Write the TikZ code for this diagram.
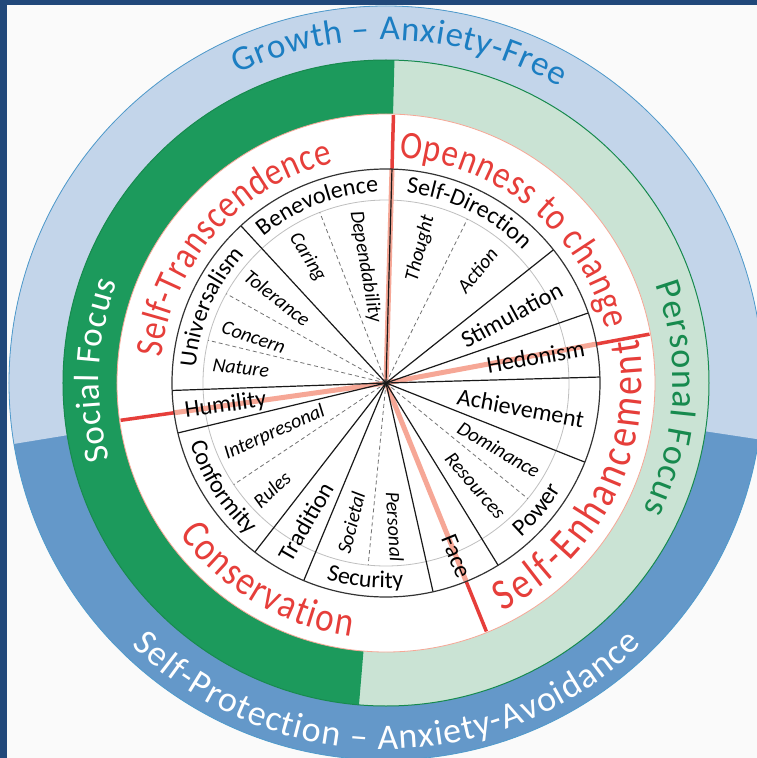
\documentclass[tikz,border=0pt]{standalone}
\usepackage{fontspec}
\setmainfont{Carlito}
\newfontfamily\archfont[FakeStretch=0.85]{Carlito}
\usepackage{xcolor}
\usepackage{tikz}
\usetikzlibrary{decorations.text}

\definecolor{navy}{HTML}{21487A}
\definecolor{skylight}{HTML}{C3D5EA}
\definecolor{skymid}{HTML}{6498C9}
\definecolor{skyline}{HTML}{4F9ACB}
\definecolor{skytext}{HTML}{1C7EC2}
\definecolor{leaf}{HTML}{1C9A5C}
\definecolor{leaflight}{HTML}{CAE3D4}
\definecolor{leafline}{HTML}{178A4E}
\definecolor{redlab}{HTML}{E63E3A}
\definecolor{salmon}{HTML}{F6A796}

\begin{document}
\begin{tikzpicture}[x=1pt, y=1pt,
        spoke/.style={black!90, line width=1.2pt},
        subline/.style={black!55, dash pattern=on 4pt off 3pt, line width=0.8pt},
        divider/.style={redlab, line width=3.5pt},
        glow/.style={salmon, line width=5pt},
        val/.style={inner sep=0pt, font=\fontsize{24}{24}\selectfont},
        sub/.style={inner sep=0pt, font=\fontsize{20}{20}\selectfont\itshape},
        ringtext/.style={decorate, decoration={text along path, text align=fit to path}},
        arcval/.style={decorate, decoration={text along path, text align=center}}]
      \useasboundingbox (-386,-375) rectangle (371,383);
      \fill[white!98!black] (-386,-375) rectangle (371,383);
      \fill[navy] (-386,-375) rectangle (-379,383);
      \fill[navy] (-386,378) rectangle (371,383);
      % outer ring: growth / self-protection
      \fill[skymid] (0,0) circle[radius=377];
      \fill[skylight] (0,0) -- (-8.6:377) arc[start angle=-8.6, end angle=189.3, radius=377] -- cycle;
      \draw[skyline, line width=0.8pt] (0,0) circle[radius=377];
      % focus ring
      \fill[leaflight] (0,0) circle[radius=323];
      \fill[leaf] (0,0) -- (88.5:323) arc[start angle=88.5, end angle=265.2, radius=323] -- cycle;
      \draw[leafline, line width=1pt] (0,0) circle[radius=323];
      \fill[white] (0,0) circle[radius=269];
      \draw[salmon, line width=0.8pt] (0,0) circle[radius=269];
      % wheel
      \draw[black!25, line width=0.8pt] (0,0) circle[radius=183];
      \draw[divider] (88.4:214) -- (88.4:268);
      \draw[divider] (10.5:214) -- (10.5:268);
      \draw[divider] (-68:214) -- (-68:268);
      \draw[divider] (188:214) -- (188:268);
      \draw[glow] (0,0) -- (88.4:214);
      \draw[glow] (0,0) -- (10.5:214);
      \draw[glow] (0,0) -- (-68:214);
      \draw[glow] (0,0) -- (188:214);
      \foreach \a in {111.2, 63.6, -39.2, -95.6, 213.7, 150.8, 166.5}
        \draw[subline] (0,0) -- (\a:183);
      \foreach \a in {88.4, 38.5, 19.1, 1.6, -21.7, -58.4, -77.3, -112.6, -127.8, -166.5, 182, 132.7}
        \draw[spoke] (0,0) -- (\a:214);
      \draw[black!80, line width=1.2pt] (0,0) circle[radius=214];
      % ring labels
      \path[ringtext, decoration={text color=skytext, text={|\fontsize{35}{35}\selectfont|Growth – Anxiety-Free}}]
        (115.7:343) arc[start angle=115.7, end angle=59.6, radius=343];
      \path[ringtext, decoration={text color=white, text={|\fontsize{36}{36}\selectfont|Self-Protection – Anxiety-Avoidance}}]
        (-134.1:366) arc[start angle=-134.1, end angle=-45.7, radius=366];
      \path[ringtext, decoration={text color=white, text={|\fontsize{35}{35}\selectfont|Social Focus}}]
        (195.5:287) arc[start angle=195.5, end angle=159.5, radius=287];
      \path[ringtext, decoration={text color=leafline, text={|\fontsize{36}{36}\selectfont|Personal Focus}}]
        (20:287) arc[start angle=20, end angle=-26.3, radius=287];
      % higher order values
      \path[ringtext, decoration={text color=redlab, text={|\archfont\fontsize{39}{39}\selectfont|Self-Transcendence}}]
        (173.5:226) arc[start angle=173.5, end angle=103.5, radius=226];
      \path[ringtext, decoration={text color=redlab, text={|\archfont\fontsize{39}{39}\selectfont|Openness to change}}]
        (86.7:226) arc[start angle=86.7, end angle=13.7, radius=226];
      \path[ringtext, decoration={text color=redlab, text={|\archfont\fontsize{41}{41}\selectfont|Conservation}}]
        (-143.8:256) arc[start angle=-143.8, end angle=-97.8, radius=256];
      \path[ringtext, decoration={text color=redlab, text={|\archfont\fontsize{44}{44}\selectfont|Self-Enhancement}}]
        (-62.9:256) arc[start angle=-62.9, end angle=9.9, radius=256];
      % values along the rim
      \path[arcval, decoration={text={|\fontsize{24}{24}\selectfont|Benevolence}}]
        (141:191) arc[start angle=141, end angle=81, radius=191];
      \path[arcval, decoration={text={|\fontsize{24}{24}\selectfont|Self-Direction}}]
        (94:191) arc[start angle=94, end angle=34, radius=191];
      \path[arcval, decoration={text={|\fontsize{24}{24}\selectfont|Universalism}}]
        (186.5:191) arc[start angle=186.5, end angle=126.5, radius=191];
      \path[arcval, decoration={text={|\fontsize{24}{24}\selectfont|Conformity}}]
        (-177.5:205) arc[start angle=-177.5, end angle=-117.5, radius=205];
      \path[arcval, decoration={text={|\fontsize{24}{24}\selectfont|Security}}]
        (-126:205) arc[start angle=-126, end angle=-66, radius=205];
      \path[arcval, decoration={text={|\fontsize{24}{24}\selectfont|Power}}]
        (-70:205) arc[start angle=-70, end angle=-10, radius=205];
      % values along the spokes
      \node[val, rotate=28.5] (stim) at (28.5:143) {Stimulation};
      \node[val, rotate=10] (hedon) at (10:152) {Hedonism};
      \node[val, rotate=-10.5] (achiev) at (-10.5:137) {Achievement};
      \node[val, rotate=-68] (face) at (-68:187) {Face};
      \node[val, rotate=60] (trad) at (-120:160) {Tradition};
      \node[val, rotate=8] (humil) at (188:162) {Humility};
      % narrow values
      \node[sub, rotate=-58] (caring) at (122:148) {Caring};
      \node[sub, rotate=-80] (depend) at (100:118) {Dependability};
      \node[sub, rotate=75.7] (thought) at (75.7:139) {Thought};
      \node[sub, rotate=51] (action) at (51:145) {Action};
      \node[sub, rotate=-38] (toler) at (142:138) {Tolerance};
      \node[sub, rotate=-19] (concern) at (161:140) {Concern};
      \node[sub, rotate=-6] (nature) at (174:146) {Nature};
      \node[sub, rotate=24] (interp) at (204:122) {Interpresonal};
      \node[sub, rotate=43] (rules) at (223:156) {Rules};
      \node[sub, rotate=76] (societ) at (-104:144) {Societal};
      \node[sub, rotate=-86.5] (person) at (-86.5:144) {Personal};
      \node[sub, rotate=-30.5] (domin) at (-30.5:131) {Dominance};
      \node[sub, rotate=-49] (resour) at (-49:136) {Resources};
    \end{tikzpicture}
\end{document}
